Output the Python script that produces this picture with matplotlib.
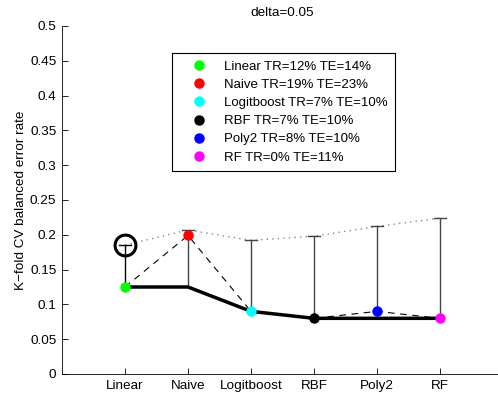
import matplotlib.pyplot as plt
from matplotlib.lines import Line2D

plt.rcParams['font.family'] = ['Liberation Sans', 'DejaVu Sans']

# data
models = ['Linear', 'Naive', 'Logitboost', 'RBF', 'Poly2', 'RF']
colors = ['#00ff00', '#ff0000', '#00ffff', '#000000', '#0000ff', '#ff00ff']
cv_error = [0.125, 0.199, 0.090, 0.080, 0.090, 0.080]
best_so_far = [0.125, 0.125, 0.090, 0.080, 0.080, 0.080]
upper = [0.185, 0.207, 0.192, 0.198, 0.212, 0.224]
tr_pct = [12, 19, 7, 7, 8, 0]
te_pct = [14, 23, 10, 10, 10, 11]

x = list(range(1, len(models) + 1))
fs = 9.7

fig = plt.figure(figsize=(4.98, 4.0), dpi=100)
ax = fig.add_axes([62/498, 26/400, 441/498, 348/400])

# dotted line joining upper ends
ax.plot(x, upper, linestyle=(0, (1, 3)), color='#888888', lw=1, zorder=1)
# dashed line through the models' errors
ax.plot(x, cv_error, linestyle=(0, (6, 5)), color='black', lw=0.8, zorder=2)
# thick line for the running best
ax.plot(x, best_so_far, color='black', lw=2.5, zorder=3)

# upper error bars from running best
for i in range(len(x)):
    c = 'black' if i == 0 else '#444444'
    ax.plot([x[i], x[i]], [best_so_far[i], upper[i]], color=c, lw=1, zorder=2)
    ax.plot([x[i] - 0.09, x[i] + 0.09], [upper[i], upper[i]], color=c, lw=1, zorder=2)

# circle on the selected model
ax.plot(x[0], upper[0], 'o', ms=15, mfc='none', mec='black', mew=2.2, zorder=4)

handles = []
for i in range(len(x)):
    ax.plot(x[i], cv_error[i], 'o', ms=6.5, color=colors[i], mec=colors[i], zorder=5)
    handles.append(Line2D([], [], marker='o', ls='none', ms=6.5,
                          color=colors[i], mec=colors[i]))

labels = [f'{m} TR={a}% TE={b}%' for m, a, b in zip(models, tr_pct, te_pct)]
leg = ax.legend(handles, labels, loc='upper left',
                bbox_to_anchor=(172/498, 1 - 53/400), bbox_transform=fig.transFigure,
                fontsize=9.5, frameon=True, fancybox=False, framealpha=1,
                edgecolor='black', borderpad=0.57, labelspacing=0.45,
                handlelength=3.0, handletextpad=0.38, borderaxespad=0)
leg.get_frame().set_linewidth(0.8)

ax.set_xlim(0, 7)
ax.set_ylim(0, 0.5)
ax.set_xticks(x)
ax.set_xticklabels(models)
ax.set_yticks([0, 0.05, 0.1, 0.15, 0.2, 0.25, 0.3, 0.35, 0.4, 0.45, 0.5])
ax.set_yticklabels(['0', '0.05', '0.1', '0.15', '0.2', '0.25', '0.3', '0.35',
                    '0.4', '0.45', '0.5'])
ax.tick_params(direction='in', length=4, labelsize=fs, width=0.6, pad=4)
ax.spines['top'].set_visible(False)
ax.spines['right'].set_visible(False)
ax.spines['left'].set_linewidth(0.6)
ax.spines['bottom'].set_linewidth(0.6)
ax.set_ylabel('K\u2212fold CV balanced error rate', fontsize=fs, labelpad=2)
ax.set_title('delta=0.05', fontsize=fs, pad=7)

fig.savefig('out.png', dpi=100)
